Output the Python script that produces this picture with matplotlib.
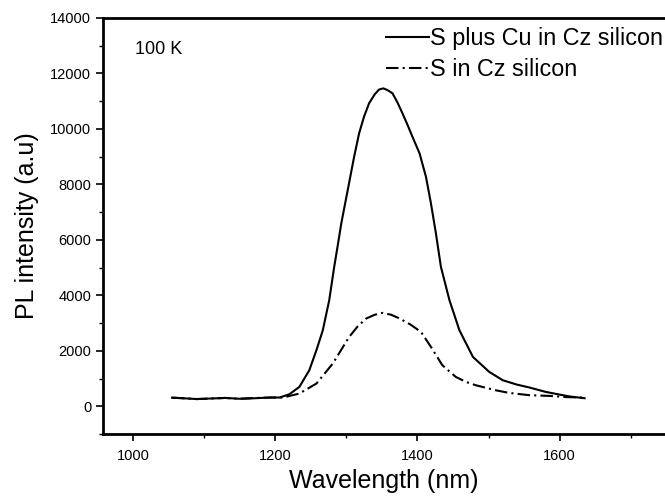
import matplotlib
matplotlib.use("Agg")
import matplotlib.pyplot as plt
from matplotlib.ticker import MultipleLocator

plt.rcParams['font.family'] = ['Liberation Sans', 'DejaVu Sans']

# S plus Cu in Cz silicon
wl_cu = [1055, 1070, 1090, 1110, 1130, 1150, 1164, 1180, 1195, 1206, 1220, 1234,
         1248, 1258, 1267, 1276, 1283, 1288, 1293, 1302, 1311, 1318, 1325, 1332,
         1340, 1346, 1352, 1358, 1365, 1372, 1379, 1386, 1393, 1403, 1412, 1419,
         1426, 1433, 1445, 1459, 1478, 1501, 1520, 1540, 1557, 1580, 1600, 1615,
         1635]
pl_cu = [310, 290, 260, 280, 300, 270, 280, 300, 320, 314, 433, 697,
         1299, 2021, 2742, 3825, 5026, 5800, 6600, 7794, 8996, 9840, 10450, 10922,
         11250, 11420, 11463, 11400, 11283, 10950, 10561, 10150, 9717, 9118, 8274, 7313,
         6231, 5026, 3825, 2742, 1779, 1238, 938, 780, 680, 520, 420, 350,
         290]

# S in Cz silicon
wl_s = [1055, 1070, 1090, 1110, 1130, 1150, 1170, 1190, 1211, 1234, 1258, 1281,
        1304, 1316, 1328, 1340, 1351, 1363, 1375, 1390, 1405, 1419, 1435, 1454,
        1468, 1482, 1510, 1529, 1557, 1587, 1610, 1634]
pl_s = [310, 290, 260, 280, 300, 270, 300, 310, 314, 458, 819, 1540,
        2500, 2880, 3164, 3300, 3367, 3300, 3164, 2950, 2681, 2140, 1480, 1058,
        880, 758, 577, 481, 400, 372, 330, 312]

fig = plt.figure(figsize=(6.65, 4.97), dpi=100)
ax = fig.add_axes([103 / 665, 63 / 497, (665 - 103) / 665, (434 - 18) / 497])

ax.plot(wl_cu, pl_cu, color='black', lw=1.5, ls='-', label='S plus Cu in Cz silicon')
ax.plot(wl_s, pl_s, color='black', lw=1.5, ls=(0, (6, 2, 1, 2)), label='S in Cz silicon')

ax.set_xlim(958, 1748)
ax.set_ylim(-1000, 14000)
ax.xaxis.set_minor_locator(MultipleLocator(100))
ax.yaxis.set_major_locator(MultipleLocator(2000))
ax.yaxis.set_minor_locator(MultipleLocator(1000))
ax.set_xticks(range(1000, 1700, 200))
ax.tick_params(which='major', direction='out', length=5, width=1.2, labelsize=10.5)
ax.tick_params(which='minor', direction='out', length=3, width=1.0)
ax.tick_params(axis='x', pad=6)

for s in ['left', 'bottom', 'top']:
    ax.spines[s].set_linewidth(2)
ax.spines['right'].set_visible(False)

ax.set_xlabel('Wavelength (nm)', fontsize=18, labelpad=4)
ax.set_ylabel('PL intensity (a.u)', fontsize=18, labelpad=8)

ax.text(135 / 665, 1 - 50 / 497, '100 K', transform=fig.transFigure,
        fontsize=13, va='center', ha='left')

ax.legend(loc='upper left', bbox_to_anchor=(386 / 665, 1 - 27 / 497),
          bbox_transform=fig.transFigure, frameon=False, fontsize=16.8,
          handlelength=1.85, handletextpad=0.05, labelspacing=0.33, borderaxespad=0,
          borderpad=0)

fig.savefig('out.png', dpi=100)
